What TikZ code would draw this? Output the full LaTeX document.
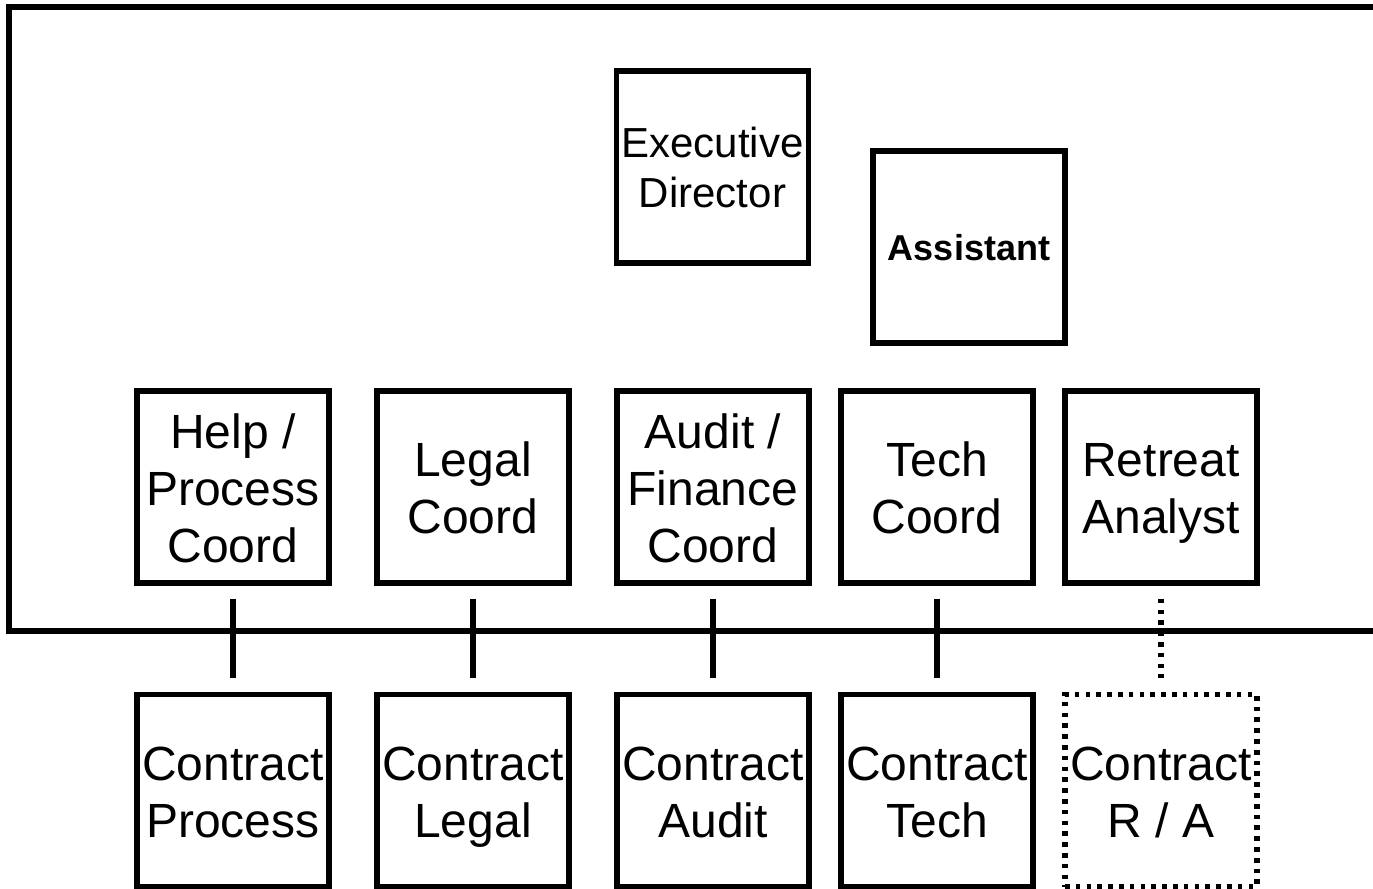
\documentclass[tikz,border=0pt]{standalone}
\usepackage{fontspec}
\setmainfont{Liberation Sans}
\newcommand\ls{\rule[-0.21em]{0pt}{1.17em}}
\begin{document}
\begin{tikzpicture}[x=0.75pt,y=-0.75pt,line width=4.2pt,
  box/.style={draw,rectangle,minimum width=144pt,minimum height=144pt,inner sep=0pt,align=center,
    font=\fontsize{36}{42.75}\selectfont},
  execbox/.style={box,font=\fontsize{31.5}{37.5}\selectfont},
  asstbox/.style={box,font=\fontsize{27}{32}\selectfont\bfseries},
  dotline/.style={dash pattern=on 3.5pt off 4.6pt},
  tick/.style={line width=4.2pt}]
\useasboundingbox (0,0) rectangle (1373,888);
% frame
\draw[line width=4.5pt] (1390,7) -- (9,7) -- (9,631) -- (1390,631);
% top
\node[execbox] (ed) at (712.5,167) {\ls Executive\\Director\ls};
\node[asstbox] (as) at (969,247) {\ls Assistant\ls};
% coordinators
\node[box] (hp) at (233,487) {\ls Help /\\Process\\Coord\ls};
\node[box] (lc) at (473,487) {\ls Legal\\Coord\ls};
\node[box] (af) at (713,487) {\ls Audit /\\Finance\\Coord\ls};
\node[box] (tc) at (937,487) {\ls Tech\\Coord\ls};
\node[box] (ra) at (1161,487) {\ls Retreat\\Analyst\ls};
% contracts
\node[box] (cp) at (233,790.5) {\ls Contract\\Process\ls};
\node[box] (cl) at (473,790.5) {\ls Contract\\Legal\ls};
\node[box] (ca) at (713,790.5) {\ls Contract\\Audit\ls};
\node[box] (ct) at (937,790.5) {\ls Contract\\Tech\ls};
\node[box,dotline] (cr) at (1161,790.5) {\ls Contract\\R / A\ls};
% connectors
\draw[tick] ([yshift=-9.75pt]hp.south) -- ([yshift=10.5pt]cp.north);
\draw[tick] ([yshift=-9.75pt]lc.south) -- ([yshift=10.5pt]cl.north);
\draw[tick] ([yshift=-9.75pt]af.south) -- ([yshift=10.5pt]ca.north);
\draw[tick] ([yshift=-9.75pt]tc.south) -- ([yshift=10.5pt]ct.north);
\draw[tick,dotline] ([yshift=-9.75pt]ra.south) -- ([yshift=10.5pt]cr.north);
\end{tikzpicture}
\end{document}
